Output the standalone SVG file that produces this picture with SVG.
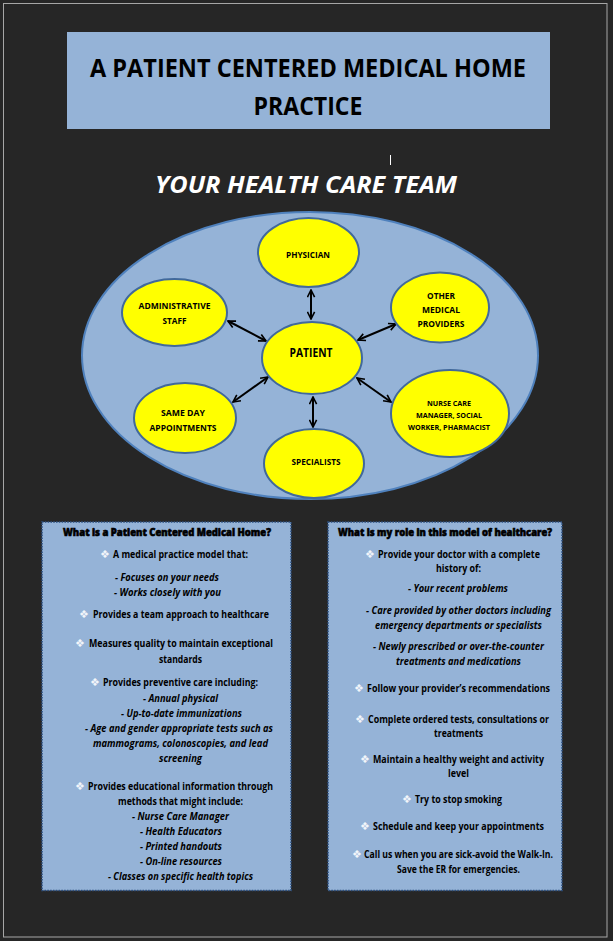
<svg xmlns="http://www.w3.org/2000/svg" width="613" height="941" viewBox="0 0 613 941">
<style>
.t{font-family:"Open Sans","Noto Sans",sans-serif;font-weight:bold;fill:#000}
.b{font-family:"DejaVu Sans",sans-serif;font-size:11px;fill:#f2f5fa}
.p{font-size:10px}
.i{font-style:italic}
.h{font-size:10px;font-weight:900;stroke:#000;stroke-width:0.6}
.n{font-size:8.5px}
.nn{font-size:7px}
.node{fill:#ffff00;stroke:#41699b;stroke-width:2}
.con{stroke:#000;stroke-width:2;fill:none;marker-start:url(#ah);marker-end:url(#ah)}
.box{fill:#95b3d7;stroke:#2d4f7e;stroke-width:1.6;stroke-dasharray:1.6 1.2}
</style>
<defs>
<marker id="ah" viewBox="0 0 10 10" refX="9" refY="5" markerWidth="9" markerHeight="9" markerUnits="userSpaceOnUse" orient="auto-start-reverse">
<path d="M1,1 L9,5 L1,9" fill="none" stroke="#000" stroke-width="1.8"/>
</marker>
</defs>
<rect x="0" y="0" width="613" height="941" fill="#262626"/>
<rect x="3.5" y="3.5" width="603.5" height="933.5" fill="none" stroke="#a6a6a6" stroke-width="1"/>

<g id="title">
<rect x="67" y="32" width="483" height="97" fill="#95b3d7"/>
<text class="t" x="308" y="77" font-size="25" text-anchor="middle" textLength="436" lengthAdjust="spacingAndGlyphs">A PATIENT CENTERED MEDICAL HOME</text>
<text class="t" x="308" y="115" font-size="25" text-anchor="middle" textLength="109" lengthAdjust="spacingAndGlyphs">PRACTICE</text>
</g>
<line x1="390.5" y1="155" x2="390.5" y2="165" stroke="#ffffff" stroke-width="1"/>
<text id="subtitle" class="t i" x="306" y="193" font-size="24" text-anchor="middle" style="fill:#fff" textLength="302" lengthAdjust="spacingAndGlyphs">YOUR HEALTH CARE TEAM</text>

<ellipse id="team" cx="310" cy="355.5" rx="228" ry="143.5" fill="#95b3d7" stroke="#4f81bd" stroke-width="2"/>

<g id="connectors">
<line class="con" x1="311" y1="290" x2="311" y2="319"/>
<line class="con" x1="228" y1="321" x2="266" y2="341"/>
<line class="con" x1="396" y1="324" x2="358" y2="340"/>
<line class="con" x1="233" y1="402" x2="268" y2="377"/>
<line class="con" x1="357" y1="378" x2="391" y2="402"/>
<line class="con" x1="313" y1="397" x2="313" y2="427"/>
</g>

<g id="physician">
<ellipse class="node" cx="308.5" cy="252.5" rx="50.5" ry="34.5"/>
<text class="t n" x="308" y="258" text-anchor="middle" textLength="44" lengthAdjust="spacingAndGlyphs">PHYSICIAN</text>
</g>
<g id="admin">
<ellipse class="node" cx="174.5" cy="312.5" rx="52.5" ry="33.5"/>
<text class="t n" x="174.5" y="309" text-anchor="middle" textLength="72" lengthAdjust="spacingAndGlyphs">ADMINISTRATIVE</text>
<text class="t n" x="174.5" y="324" text-anchor="middle" textLength="24" lengthAdjust="spacingAndGlyphs">STAFF</text>
</g>
<g id="other">
<ellipse class="node" cx="440" cy="307.5" rx="49" ry="35"/>
<text class="t n" x="441" y="299" text-anchor="middle" textLength="28" lengthAdjust="spacingAndGlyphs">OTHER</text>
<text class="t n" x="441" y="313" text-anchor="middle" textLength="38" lengthAdjust="spacingAndGlyphs">MEDICAL</text>
<text class="t n" x="441" y="327" text-anchor="middle" textLength="47" lengthAdjust="spacingAndGlyphs">PROVIDERS</text>
</g>
<g id="patient">
<ellipse class="node" cx="312" cy="358" rx="50" ry="36"/>
<text class="t" x="311" y="356.5" font-size="12" text-anchor="middle" textLength="43" lengthAdjust="spacingAndGlyphs">PATIENT</text>
</g>
<g id="sameday">
<ellipse class="node" cx="185" cy="418" rx="51" ry="35"/>
<text class="t n" x="183" y="416" text-anchor="middle" textLength="44" lengthAdjust="spacingAndGlyphs">SAME DAY</text>
<text class="t n" x="183" y="431" text-anchor="middle" textLength="67" lengthAdjust="spacingAndGlyphs">APPOINTMENTS</text>
</g>
<g id="nurse">
<ellipse class="node" cx="450" cy="413.5" rx="59" ry="43.5"/>
<text class="t nn" x="449" y="405.5" text-anchor="middle" textLength="44" lengthAdjust="spacingAndGlyphs">NURSE CARE</text>
<text class="t nn" x="449" y="417.5" text-anchor="middle" textLength="66" lengthAdjust="spacingAndGlyphs">MANAGER, SOCIAL</text>
<text class="t nn" x="449" y="429.5" text-anchor="middle" textLength="82" lengthAdjust="spacingAndGlyphs">WORKER, PHARMACIST</text>
</g>
<g id="specialists">
<ellipse class="node" cx="314" cy="463.5" rx="50" ry="34.5"/>
<text class="t n" x="316" y="465" text-anchor="middle" textLength="49" lengthAdjust="spacingAndGlyphs">SPECIALISTS</text>
</g>

<g id="what-is">
<rect class="box" x="42" y="522" width="249" height="368.5"/>
<text class="t h" x="63" y="535.5" textLength="208" lengthAdjust="spacingAndGlyphs">What is a Patient Centered Medical Home?</text>
<text class="b" x="100" y="557.5">❖</text>
<text class="t p" x="113" y="557.5" textLength="135" lengthAdjust="spacingAndGlyphs">A medical practice model that:</text>
<text class="t p i" x="115" y="580.5" textLength="104" lengthAdjust="spacingAndGlyphs">- Focuses on your needs</text>
<text class="t p i" x="114" y="595.5" textLength="107" lengthAdjust="spacingAndGlyphs">- Works closely with you</text>
<text class="b" x="79" y="617.5">❖</text>
<text class="t p" x="93" y="617.5" textLength="176" lengthAdjust="spacingAndGlyphs">Provides a team approach to healthcare</text>
<text class="b" x="75" y="646.5">❖</text>
<text class="t p" x="89" y="646.5" textLength="184" lengthAdjust="spacingAndGlyphs">Measures quality to maintain exceptional</text>
<text class="t p" x="159" y="662.5" textLength="43" lengthAdjust="spacingAndGlyphs">standards</text>
<text class="b" x="90" y="685.5">❖</text>
<text class="t p" x="103" y="685.5" textLength="155" lengthAdjust="spacingAndGlyphs">Provides preventive care including:</text>
<text class="t p i" x="143" y="701.5" textLength="75" lengthAdjust="spacingAndGlyphs">- Annual physical</text>
<text class="t p i" x="121" y="716.5" textLength="121" lengthAdjust="spacingAndGlyphs">- Up-to-date immunizations</text>
<text class="t p i" x="85" y="731.5" textLength="188" lengthAdjust="spacingAndGlyphs">- Age and gender appropriate tests such as</text>
<text class="t p i" x="93" y="746.5" textLength="175" lengthAdjust="spacingAndGlyphs">mammograms, colonoscopies, and lead</text>
<text class="t p i" x="159" y="761.5" textLength="43" lengthAdjust="spacingAndGlyphs">screening</text>
<text class="b" x="75" y="789.5">❖</text>
<text class="t p" x="88" y="789.5" textLength="185" lengthAdjust="spacingAndGlyphs">Provides educational information through</text>
<text class="t p" x="118" y="804.5" textLength="125" lengthAdjust="spacingAndGlyphs">methods that might include:</text>
<text class="t p i" x="132" y="819.5" textLength="97" lengthAdjust="spacingAndGlyphs">- Nurse Care Manager</text>
<text class="t p i" x="140" y="834.5" textLength="82" lengthAdjust="spacingAndGlyphs">- Health Educators</text>
<text class="t p i" x="140" y="849.5" textLength="82" lengthAdjust="spacingAndGlyphs">- Printed handouts</text>
<text class="t p i" x="140" y="864.5" textLength="82" lengthAdjust="spacingAndGlyphs">- On-line resources</text>
<text class="t p i" x="108" y="879.5" textLength="145" lengthAdjust="spacingAndGlyphs">- Classes on specific health topics</text>
</g>

<g id="my-role">
<rect class="box" x="328" y="522" width="234" height="368.5"/>
<text class="t h" x="338" y="535.5" textLength="214" lengthAdjust="spacingAndGlyphs">What is my role in this model of healthcare?</text>
<text class="b" x="365" y="557.5">❖</text>
<text class="t p" x="378" y="557.5" textLength="162" lengthAdjust="spacingAndGlyphs">Provide your doctor with a complete</text>
<text class="t p" x="436" y="571.5" textLength="45" lengthAdjust="spacingAndGlyphs">history of:</text>
<text class="t p i" x="408" y="591.5" textLength="100" lengthAdjust="spacingAndGlyphs">- Your recent problems</text>
<text class="t p i" x="366" y="613.5" textLength="185" lengthAdjust="spacingAndGlyphs">- Care provided by other doctors including</text>
<text class="t p i" x="375" y="628.5" textLength="167" lengthAdjust="spacingAndGlyphs">emergency departments or specialists</text>
<text class="t p i" x="373" y="649.5" textLength="171" lengthAdjust="spacingAndGlyphs">- Newly prescribed or over-the-counter</text>
<text class="t p i" x="396" y="664.5" textLength="125" lengthAdjust="spacingAndGlyphs">treatments and medications</text>
<text class="b" x="354" y="691.5">❖</text>
<text class="t p" x="367" y="691.5" textLength="183" lengthAdjust="spacingAndGlyphs">Follow your provider’s recommendations</text>
<text class="b" x="355" y="722.5">❖</text>
<text class="t p" x="368" y="722.5" textLength="181" lengthAdjust="spacingAndGlyphs">Complete ordered tests, consultations or</text>
<text class="t p" x="434" y="736.5" textLength="49" lengthAdjust="spacingAndGlyphs">treatments</text>
<text class="b" x="360" y="762.5">❖</text>
<text class="t p" x="373" y="762.5" textLength="171" lengthAdjust="spacingAndGlyphs">Maintain a healthy weight and activity</text>
<text class="t p" x="448" y="776.5" textLength="21" lengthAdjust="spacingAndGlyphs">level</text>
<text class="b" x="402" y="802.5">❖</text>
<text class="t p" x="415" y="802.5" textLength="87" lengthAdjust="spacingAndGlyphs">Try to stop smoking</text>
<text class="b" x="360" y="829.5">❖</text>
<text class="t p" x="373" y="829.5" textLength="171" lengthAdjust="spacingAndGlyphs">Schedule and keep your appointments</text>
<text class="b" x="352" y="857.5">❖</text>
<text class="t p" x="364" y="857.5" font-size="9.5" textLength="189" lengthAdjust="spacingAndGlyphs">Call us when you are sick-avoid the Walk-In.</text>
<text class="t p" x="397" y="872.5" font-size="9.5" textLength="123" lengthAdjust="spacingAndGlyphs">Save the ER for emergencies.</text>
</g>
</svg>
